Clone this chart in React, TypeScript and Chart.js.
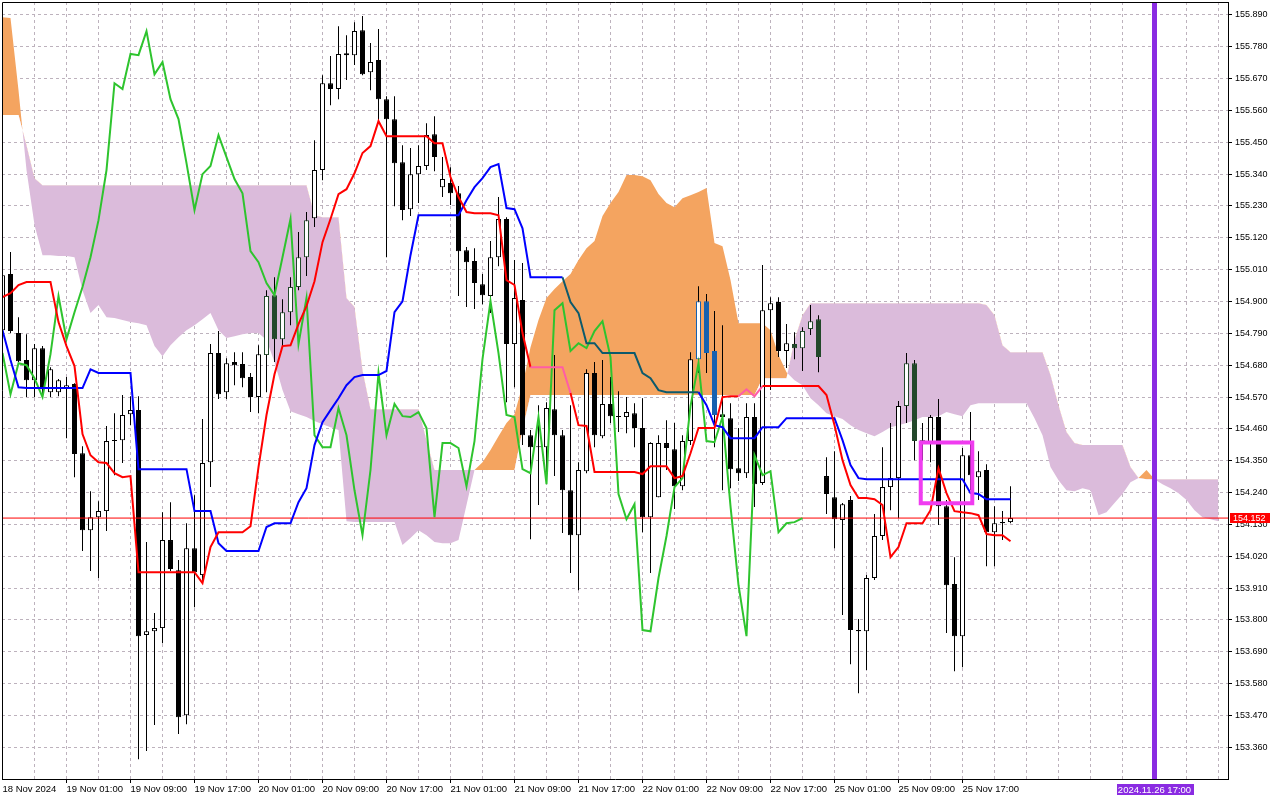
import React, { useEffect, useRef } from "react";
import { Chart, registerables } from "chart.js";

Chart.register(...registerables);

// ---- data (H1 bars, indexed from -1 = 18 Nov 17:00) ----
const FIRST_BAR = -1;

const opens = [
  154.801, 154.995, 154.791, 154.698, 154.628, 154.739, 154.587, 154.587, 154.601, 154.615,
  154.376, 154.110, 154.155, 154.176, 154.421, 154.421, 154.511, 154.525, 153.748, 153.761,
  153.772, 154.076, 153.972, 153.471, 154.048, 153.955, 154.345, 154.722, 154.587, 154.691,
  154.684, 154.639, 154.570, 154.715, 154.922, 154.770, 154.863, 154.950, 155.053, 155.188,
  155.354, 155.654, 155.634, 155.758, 155.751, 155.837, 155.692, 155.734, 155.599, 155.530,
  155.381, 155.219, 155.340, 155.368, 155.478, 155.295, 155.309, 155.274, 155.077, 155.040,
  154.960, 154.919, 155.053, 155.185, 154.753, 154.905, 154.438, 154.400, 154.397, 154.528,
  154.438, 154.248, 154.093, 154.314, 154.653, 154.435, 154.546, 154.504, 154.501, 154.514,
  154.463, 154.155, 154.224, 154.411, 154.390, 154.262, 154.418, 154.701, 154.901, 154.729,
  154.511, 154.497, 154.324, 154.307, 154.501, 154.273, 154.870, 154.898, 154.729, 154.753,
  154.739, 154.805, 154.839, 154.297, 154.224, 154.145, 154.214, 153.765, 153.761, 153.945,
  154.090, 154.259, 154.290, 154.539, 154.687, 154.421, 154.414, 154.501, 154.193, 153.924,
  153.744, 154.369, 154.293, 154.318, 154.103, 154.134, 154.138,
];

const highs = [
  155.008, 155.071, 154.846, 154.787, 154.753, 154.746, 154.673, 154.632, 154.639, 154.618,
  154.400, 154.245, 154.210, 154.470, 154.514, 154.577, 154.573, 154.573, 154.069, 153.824,
  154.172, 154.207, 154.007, 154.134, 154.231, 154.494, 154.753, 154.798, 154.704, 154.725,
  154.725, 154.653, 154.749, 154.939, 154.984, 154.908, 154.984, 155.140, 155.209, 155.457,
  155.682, 155.748, 155.851, 155.820, 155.865, 155.886, 155.793, 155.841, 155.609, 155.609,
  155.440, 155.430, 155.440, 155.516, 155.540, 155.399, 155.364, 155.299, 155.088, 155.084,
  154.995, 155.109, 155.261, 155.191, 155.043, 155.033, 154.456, 154.542, 154.552, 154.715,
  154.456, 154.542, 154.345, 154.666, 154.691, 154.698, 154.639, 154.590, 154.570, 154.549,
  154.566, 154.414, 154.438, 154.490, 154.480, 154.438, 154.725, 154.953, 154.926, 154.867,
  154.818, 154.549, 154.463, 154.549, 154.549, 155.026, 154.915, 154.915, 154.822, 154.794,
  154.811, 154.888, 154.853, 154.362, 154.383, 154.204, 154.228, 153.803, 153.955, 154.166,
  154.397, 154.480, 154.556, 154.722, 154.698, 154.480, 154.508, 154.563, 154.214, 154.017,
  154.394, 154.518, 154.383, 154.338, 154.193, 154.176, 154.262,
];

const lows = [
  154.791, 154.791, 154.691, 154.570, 154.570, 154.573, 154.570, 154.573, 154.428, 154.293,
  154.038, 153.969, 153.945, 154.107, 154.300, 154.342, 154.473, 153.319, 153.347, 153.437,
  153.720, 153.969, 153.406, 153.440, 153.844, 153.927, 154.259, 154.563, 154.563, 154.611,
  154.604, 154.518, 154.514, 154.587, 154.691, 154.746, 154.818, 154.939, 154.988, 155.157,
  155.319, 155.578, 155.599, 155.665, 155.717, 155.682, 155.630, 155.523, 155.053, 155.229,
  155.181, 155.195, 155.240, 155.354, 155.350, 155.261, 155.233, 154.919, 154.881, 154.874,
  154.891, 154.860, 155.022, 154.552, 154.604, 154.404, 154.079, 154.197, 154.273, 154.297,
  154.100, 153.962, 153.903, 154.307, 154.397, 154.428, 154.480, 154.449, 154.445, 154.397,
  154.103, 153.962, 154.224, 154.318, 154.183, 154.248, 154.404, 154.653, 154.653, 154.397,
  154.248, 154.255, 154.280, 154.290, 154.190, 154.266, 154.594, 154.708, 154.670, 154.701,
  154.660, 154.784, 154.656, 154.166, 154.048, 153.817, 153.647, 153.547, 153.627, 153.938,
  154.076, 154.179, 154.152, 154.480, 154.352, 154.352, 154.345, 154.128, 153.755, 153.623,
  153.637, 154.248, 154.214, 153.986, 153.986, 154.076, 154.134,
];

const closes = [
  154.991, 154.798, 154.694, 154.628, 154.739, 154.597, 154.666, 154.628, 154.611, 154.373,
  154.110, 154.155, 154.176, 154.418, 154.418, 154.508, 154.525, 153.744, 153.761, 153.772,
  154.076, 153.976, 153.464, 154.048, 153.965, 154.342, 154.722, 154.580, 154.687, 154.680,
  154.635, 154.570, 154.718, 154.919, 154.770, 154.863, 154.950, 155.053, 155.181, 155.354,
  155.654, 155.634, 155.755, 155.751, 155.834, 155.685, 155.727, 155.599, 155.530, 155.378,
  155.216, 155.340, 155.368, 155.475, 155.399, 155.323, 155.274, 155.074, 155.036, 154.964,
  154.922, 155.053, 155.185, 154.753, 154.912, 154.438, 154.397, 154.397, 154.532, 154.438,
  154.248, 154.093, 154.318, 154.653, 154.438, 154.546, 154.504, 154.501, 154.518, 154.463,
  154.155, 154.411, 154.411, 154.394, 154.262, 154.418, 154.701, 154.901, 154.722, 154.508,
  154.501, 154.321, 154.307, 154.501, 154.269, 154.870, 154.894, 154.729, 154.756, 154.739,
  154.798, 154.832, 154.708, 154.235, 154.148, 154.200, 153.765, 153.761, 153.945, 154.090,
  154.259, 154.290, 154.539, 154.687, 154.418, 154.414, 154.501, 154.193, 153.920, 153.744,
  154.369, 154.300, 154.314, 154.103, 154.134, 154.138, 154.152,
];

// Tenkan-sen (red), bars -1..125
const tenkan = [
  154.915, 154.929, 154.957, 154.967, 154.967, 154.967, 154.967, 154.829, 154.746, 154.677,
  154.442, 154.369, 154.345, 154.342, 154.307, 154.293, 154.297, 153.965, 153.965, 153.965,
  153.965, 153.965, 153.965, 153.965, 153.965, 153.927, 154.052, 154.103, 154.103, 154.103,
  154.103, 154.124, 154.328, 154.508, 154.649, 154.746, 154.749, 154.822, 154.884, 154.970,
  155.105, 155.185, 155.271, 155.288, 155.343, 155.413, 155.437, 155.523, 155.471, 155.471,
  155.471, 155.471, 155.471, 155.471, 155.447, 155.447, 155.330, 155.261, 155.209, 155.205,
  155.205, 155.205, 155.198, 154.974, 154.957, 154.791, 154.673, 154.673, 154.673, 154.673,
  154.673, 154.584, 154.473, 154.470, 154.311, 154.311, 154.311, 154.311, 154.311, 154.311,
  154.304, 154.331, 154.331, 154.331, 154.290, 154.297, 154.376, 154.463, 154.463, 154.463,
  154.570, 154.573, 154.573, 154.597, 154.573, 154.608, 154.608, 154.608, 154.608, 154.608,
  154.608, 154.608, 154.608, 154.577, 154.473, 154.352, 154.266, 154.221, 154.221, 154.217,
  154.197, 154.017, 154.052, 154.134, 154.134, 154.134, 154.179, 154.324, 154.238, 154.176,
  154.172, 154.169, 154.162, 154.097, 154.093, 154.093, 154.072,
];

// Kijun-sen (blue), bars -1..125
const kijun = [
  154.801, 154.698, 154.604, 154.601, 154.601, 154.601, 154.601, 154.601, 154.601, 154.601,
  154.601, 154.666, 154.653, 154.653, 154.653, 154.653, 154.653, 154.321, 154.321, 154.321,
  154.321, 154.321, 154.321, 154.321, 154.176, 154.176, 154.176, 154.065, 154.038, 154.038,
  154.038, 154.038, 154.038, 154.121, 154.134, 154.134, 154.134, 154.207, 154.255, 154.404,
  154.483, 154.525, 154.566, 154.611, 154.639, 154.646, 154.646, 154.646, 154.660, 154.863,
  154.901, 155.060, 155.198, 155.198, 155.198, 155.198, 155.198, 155.198, 155.250, 155.295,
  155.326, 155.364, 155.375, 155.223, 155.219, 155.153, 154.984, 154.984, 154.984, 154.984,
  154.984, 154.898, 154.860, 154.756, 154.756, 154.722, 154.722, 154.722, 154.722, 154.722,
  154.653, 154.635, 154.594, 154.587, 154.587, 154.587, 154.587, 154.587, 154.542, 154.473,
  154.466, 154.428, 154.428, 154.428, 154.428, 154.466, 154.466, 154.466, 154.497, 154.497,
  154.497, 154.497, 154.497, 154.497, 154.497, 154.421, 154.335, 154.290, 154.286, 154.286,
  154.286, 154.286, 154.286, 154.286, 154.286, 154.286, 154.286, 154.286, 154.286, 154.286,
  154.286, 154.238, 154.235, 154.217, 154.217, 154.217, 154.217,
];

// Senkou Span A / B, already shifted 26 bars forward: bars -1..151
const spanA = [
  155.882, 155.879, 155.630, 155.354, 155.164, 155.060, 155.060, 155.057, 155.057, 155.053,
  154.939, 154.860, 154.888, 154.846, 154.843, 154.836, 154.829, 154.825, 154.818, 154.746,
  154.711, 154.749, 154.777, 154.801, 154.818, 154.839, 154.860, 154.801, 154.774, 154.780,
  154.787, 154.791, 154.791, 154.767, 154.691, 154.594, 154.521, 154.511, 154.501, 154.487,
  154.476, 154.466, 154.456, 154.141, 154.138, 154.138, 154.138, 154.138, 154.138, 154.138,
  154.059, 154.083, 154.110, 154.093, 154.069, 154.065, 154.065, 154.076, 154.197, 154.318,
  154.345, 154.387, 154.435, 154.480, 154.511, 154.611, 154.742, 154.836, 154.912, 154.943,
  154.970, 154.995, 155.043, 155.084, 155.109, 155.195, 155.240, 155.278, 155.337, 155.337,
  155.333, 155.319, 155.271, 155.240, 155.226, 155.257, 155.267, 155.278, 155.292, 155.102,
  155.091, 154.974, 154.825, 154.825, 154.825, 154.825, 154.801, 154.715, 154.656, 154.628,
  154.611, 154.566, 154.542, 154.514, 154.504, 154.494, 154.473, 154.456, 154.445, 154.435,
  154.449, 154.466, 154.473, 154.480, 154.490, 154.501, 154.501, 154.504, 154.518, 154.511,
  154.504, 154.542, 154.549, 154.549, 154.549, 154.549, 154.549, 154.549, 154.549, 154.497,
  154.438, 154.328, 154.283, 154.248, 154.245, 154.255, 154.248, 154.162, 154.172, 154.204,
  154.235, 154.276, 154.290, 154.318, 154.286, 154.269, 154.255, 154.238, 154.214, 154.179,
  154.155, 154.148, 154.141,
];

const spanB = [
  155.544, 155.544, 155.544, 155.440, 155.326, 155.302, 155.302, 155.302, 155.302, 155.302,
  155.302, 155.302, 155.302, 155.302, 155.302, 155.302, 155.302, 155.302, 155.302, 155.302,
  155.302, 155.302, 155.302, 155.302, 155.302, 155.302, 155.302, 155.302, 155.302, 155.302,
  155.302, 155.302, 155.302, 155.302, 155.302, 155.302, 155.302, 155.302, 155.302, 155.198,
  155.191, 155.191, 155.191, 154.912, 154.881, 154.663, 154.528, 154.528, 154.528, 154.528,
  154.528, 154.528, 154.528, 154.421, 154.318, 154.318, 154.318, 154.318, 154.318, 154.318,
  154.318, 154.318, 154.318, 154.318, 154.318, 154.456, 154.577, 154.577, 154.577, 154.577,
  154.577, 154.577, 154.577, 154.577, 154.577, 154.577, 154.577, 154.577, 154.577, 154.577,
  154.577, 154.577, 154.577, 154.577, 154.577, 154.577, 154.577, 154.577, 154.577, 154.577,
  154.577, 154.577, 154.577, 154.577, 154.577, 154.635, 154.635, 154.635, 154.635, 154.767,
  154.853, 154.894, 154.894, 154.894, 154.894, 154.894, 154.894, 154.894, 154.894, 154.894,
  154.894, 154.894, 154.894, 154.894, 154.894, 154.894, 154.894, 154.894, 154.894, 154.894,
  154.894, 154.894, 154.894, 154.888, 154.853, 154.749, 154.725, 154.725, 154.725, 154.725,
  154.725, 154.646, 154.542, 154.449, 154.411, 154.404, 154.404, 154.404, 154.404, 154.404,
  154.404, 154.328, 154.290, 154.286, 154.286, 154.286, 154.286, 154.286, 154.286, 154.286,
  154.286, 154.286, 154.286,
];

const CHIKOU_SHIFT = 26;
const LAST_PRICE = 154.152;
const MARK_BAR = 143;
const MARK_LABEL = "2024.11.26 17:00";
const BOX_FROM_BAR = 113.78;
const BOX_TO_BAR = 120.22;
const BOX_LOW = 154.203;
const BOX_HIGH = 154.413;

const yTicks = [
  153.36, 153.47, 153.58, 153.69, 153.8, 153.91, 154.02, 154.13, 154.24, 154.35, 154.46, 154.57,
  154.68, 154.79, 154.9, 155.01, 155.12, 155.23, 155.34, 155.45, 155.56, 155.67, 155.78, 155.89,
];
const xGridBars = [
  3, 7, 11, 15, 19, 23, 27, 31, 35, 39, 43, 47, 51, 55, 59, 63, 67, 71, 75, 79, 83, 87, 91, 95,
  99, 103, 107, 111, 115, 119, 123, 127, 131, 135, 139, 143, 147, 151,
];
const xLabelBars = [-1, 7, 15, 23, 31, 39, 47, 55, 63, 71, 79, 87, 95, 103, 111, 119];
const xLabels = [
  "18 Nov 2024", "19 Nov 01:00", "19 Nov 09:00", "19 Nov 17:00", "20 Nov 01:00", "20 Nov 09:00",
  "20 Nov 17:00", "21 Nov 01:00", "21 Nov 09:00", "21 Nov 17:00", "22 Nov 01:00", "22 Nov 09:00",
  "22 Nov 17:00", "25 Nov 01:00", "25 Nov 09:00", "25 Nov 17:00",
];

// ---- view window ----
const X_MIN = -1.0625;
const X_MAX = 152.1875;
const Y_MIN = 153.2507;
const Y_MAX = 155.9346;

const GRID = "#bdb2bd";
const ORANGE = "#f4a460";
const THISTLE = "rgb(219,187,219)";
const ORANGE_INK = "#1661b0";
const THISTLE_INK = "#22482a";
const FONT = "Liberation Sans";

function cloudZone(bar: number, price: number) {
  const k = Math.round(bar) - FIRST_BAR;
  const a = spanA[k];
  const b = spanB[k];
  if (a === undefined || b === undefined) return 0;
  if (a >= b && price <= a && price >= b) return 1;
  if (b > a && price <= b && price >= a) return 2;
  return 0;
}

const overlayPlugin = {
  id: "mtOverlay",
  afterDraw(chart: any) {
    const { ctx, chartArea: a, scales } = chart;
    ctx.save();
    ctx.strokeStyle = "#000";
    ctx.lineWidth = 1;
    ctx.beginPath();
    ctx.moveTo(a.left + 0.5, a.bottom);
    ctx.lineTo(a.left + 0.5, a.top + 0.5);
    ctx.lineTo(a.right, a.top + 0.5);
    ctx.stroke();

    const py = scales.y.getPixelForValue(LAST_PRICE);
    ctx.fillStyle = "#ff0000";
    ctx.fillRect(a.right + 2, Math.round(py) - 5, 40, 10);
    ctx.fillStyle = "#ffffff";
    ctx.font = `9px "${FONT}"`;
    ctx.textBaseline = "middle";
    ctx.textAlign = "left";
    ctx.fillText(LAST_PRICE.toFixed(3), a.right + 5, Math.round(py) + 0.5);

    const mx = scales.x.getPixelForValue(MARK_BAR);
    ctx.fillStyle = "#8a2be2";
    ctx.fillRect(Math.round(mx) - 38, a.bottom + 5, 77, 11);
    ctx.fillStyle = "#ffffff";
    ctx.textAlign = "center";
    ctx.font = `9.5px "${FONT}"`;
    ctx.fillText(MARK_LABEL, mx, a.bottom + 11);
    ctx.restore();
  },
};

export default function App() {
  const ref = useRef<HTMLCanvasElement>(null);

  useEffect(() => {
    const canvas = ref.current;
    if (!canvas) return;

    const bars = opens.map((_, i) => i + FIRST_BAR);
    const cloudBars = spanA.map((_, i) => i + FIRST_BAR);
    const labelMap = new Map<number, string>();
    xLabelBars.forEach((b, i) => labelMap.set(b, xLabels[i]));
    const xTickValues = [-1, ...xGridBars];

    const ink = bars.map((b, i) => {
      const z = cloudZone(b, (opens[i] + closes[i]) / 2);
      return z === 1 ? ORANGE_INK : z === 2 ? THISTLE_INK : "#000000";
    });
    const fill = bars.map((_, i) => (closes[i] >= opens[i] ? "#ffffff" : ink[i]));

    const chikouPts = closes
      .map((c, i) => ({ x: i + FIRST_BAR - CHIKOU_SHIFT, y: c }))
      .filter((p) => p.x >= FIRST_BAR);

    const segInk = (alt: string) => (ctx: any) => {
      const z = cloudZone(ctx.p0.parsed.x, (ctx.p0.parsed.y + ctx.p1.parsed.y) / 2);
      return z === 1 ? alt : undefined;
    };

    const chart = new Chart(canvas, {
      type: "line",
      data: {
        datasets: [
          {
            type: "line",
            label: "Senkou Span B",
            data: cloudBars.map((b, i) => ({ x: b, y: spanB[i] })),
            borderColor: "rgba(0,0,0,0)",
            borderWidth: 0,
            pointRadius: 0,
            fill: false,
            order: 20,
          },
          {
            type: "line",
            label: "Senkou Span A",
            data: cloudBars.map((b, i) => ({ x: b, y: spanA[i] })),
            borderColor: "rgba(0,0,0,0)",
            borderWidth: 0,
            pointRadius: 0,
            fill: { target: "-1", above: ORANGE, below: THISTLE },
            order: 19,
          },
          {
            type: "bar",
            label: "wicks",
            data: bars.map((b, i) => ({ x: b, y: [lows[i], highs[i]] })) as any,
            backgroundColor: "#000000",
            borderWidth: 0,
            barThickness: 1,
            grouped: false,
            minBarLength: 1,
            inflateAmount: 0,
            order: 12,
          } as any,
          {
            type: "bar",
            label: "bodies",
            data: bars.map((b, i) => ({ x: b, y: [opens[i], closes[i]] })) as any,
            backgroundColor: fill,
            borderColor: ink,
            borderWidth: 1,
            borderSkipped: false,
            barThickness: 5,
            grouped: false,
            minBarLength: 1,
            inflateAmount: 0,
            order: 11,
          } as any,
          {
            type: "line",
            label: "Bid",
            data: [
              { x: X_MIN, y: LAST_PRICE },
              { x: X_MAX, y: LAST_PRICE },
            ],
            borderColor: "#ff0000",
            borderWidth: 1,
            pointRadius: 0,
            fill: false,
            order: 8,
          },
          {
            type: "line",
            label: "Chikou Span",
            data: chikouPts,
            borderColor: "#2ec42e",
            borderWidth: 2,
            pointRadius: 0,
            fill: false,
            tension: 0,
            order: 6,
          },
          {
            type: "line",
            label: "Kijun-sen",
            data: bars.map((b, i) => ({ x: b, y: kijun[i] })),
            borderColor: "#0000ff",
            borderWidth: 2,
            pointRadius: 0,
            fill: false,
            tension: 0,
            segment: { borderColor: segInk("#0d5a6c") },
            order: 5,
          },
          {
            type: "line",
            label: "Tenkan-sen",
            data: bars.map((b, i) => ({ x: b, y: tenkan[i] })),
            borderColor: "#ff0000",
            borderWidth: 2,
            pointRadius: 0,
            fill: false,
            tension: 0,
            segment: { borderColor: segInk("#ff5ca6") },
            order: 4,
          },
          {
            type: "line",
            label: "box",
            data: [
              { x: BOX_FROM_BAR, y: BOX_HIGH },
              { x: BOX_TO_BAR, y: BOX_HIGH },
              { x: BOX_TO_BAR, y: BOX_LOW },
              { x: BOX_FROM_BAR, y: BOX_LOW },
              { x: BOX_FROM_BAR, y: BOX_HIGH },
            ],
            borderColor: "#f03cf0",
            borderWidth: 4,
            borderJoinStyle: "miter",
            borderCapStyle: "square",
            pointRadius: 0,
            fill: false,
            order: 2,
          },
          {
            type: "line",
            label: "marker",
            data: [
              { x: MARK_BAR, y: Y_MIN },
              { x: MARK_BAR, y: Y_MAX },
            ],
            borderColor: "#8a2be2",
            borderWidth: 5,
            pointRadius: 0,
            fill: false,
            order: 1,
          },
        ],
      },
      options: {
        responsive: false,
        devicePixelRatio: 1,
        animation: false,
        events: [],
        layout: { padding: { left: 2, top: 2, right: 0, bottom: 0 } },
        plugins: {
          legend: { display: false },
          tooltip: { enabled: false },
          filler: { drawTime: "beforeDatasetsDraw" },
        } as any,
        scales: {
          x: {
            type: "linear",
            position: "bottom",
            min: X_MIN,
            max: X_MAX,
            offset: false,
            afterBuildTicks: (s: any) => {
              s.ticks = xTickValues.map((v) => ({ value: v }));
            },
            afterFit: (s: any) => {
              s.height = 21;
              s.paddingLeft = 0;
              s.paddingRight = 0;
            },
            grid: {
              offset: false,
              color: (c: any) => (c.tick && c.tick.value === -1 ? "rgba(0,0,0,0)" : GRID),
              lineWidth: 1,
              tickLength: 4,
              tickColor: (c: any) =>
                c.tick && labelMap.has(c.tick.value) && c.tick.value !== -1 ? "#000" : "rgba(0,0,0,0)",
              tickBorderDash: [],
            },
            border: { display: true, color: "#000", width: 1, dash: [3, 3] },
            ticks: {
              autoSkip: false,
              maxRotation: 0,
              minRotation: 0,
              align: "start",
              padding: 1,
              color: "#000",
              font: { family: FONT, size: 9.5 },
              callback: (v: any) => labelMap.get(Number(v)) ?? "",
            },
          } as any,
          y: {
            type: "linear",
            position: "right",
            min: Y_MIN,
            max: Y_MAX,
            beginAtZero: false,
            afterBuildTicks: (s: any) => {
              s.ticks = yTicks.map((v) => ({ value: v }));
            },
            afterFit: (s: any) => {
              s.width = 52;
              s.paddingTop = 0;
              s.paddingBottom = 0;
            },
            grid: {
              color: GRID,
              lineWidth: 1,
              tickLength: 4,
              tickColor: "#000",
              tickBorderDash: [],
            },
            border: { display: true, color: "#000", width: 1, dash: [3, 3] },
            ticks: {
              autoSkip: false,
              padding: 3,
              color: "#000",
              font: { family: FONT, size: 9 },
              callback: (v: any) => Number(v).toFixed(3),
            },
          } as any,
        },
      },
      plugins: [overlayPlugin as any],
    } as any);

    return () => chart.destroy();
  }, []);

  return (
    <div style={{ position: "fixed", left: 0, top: 0, width: 1280, height: 800, background: "#ffffff" }}>
      <canvas ref={ref} width={1280} height={800} style={{ display: "block", width: 1280, height: 800 }} />
    </div>
  );
}
